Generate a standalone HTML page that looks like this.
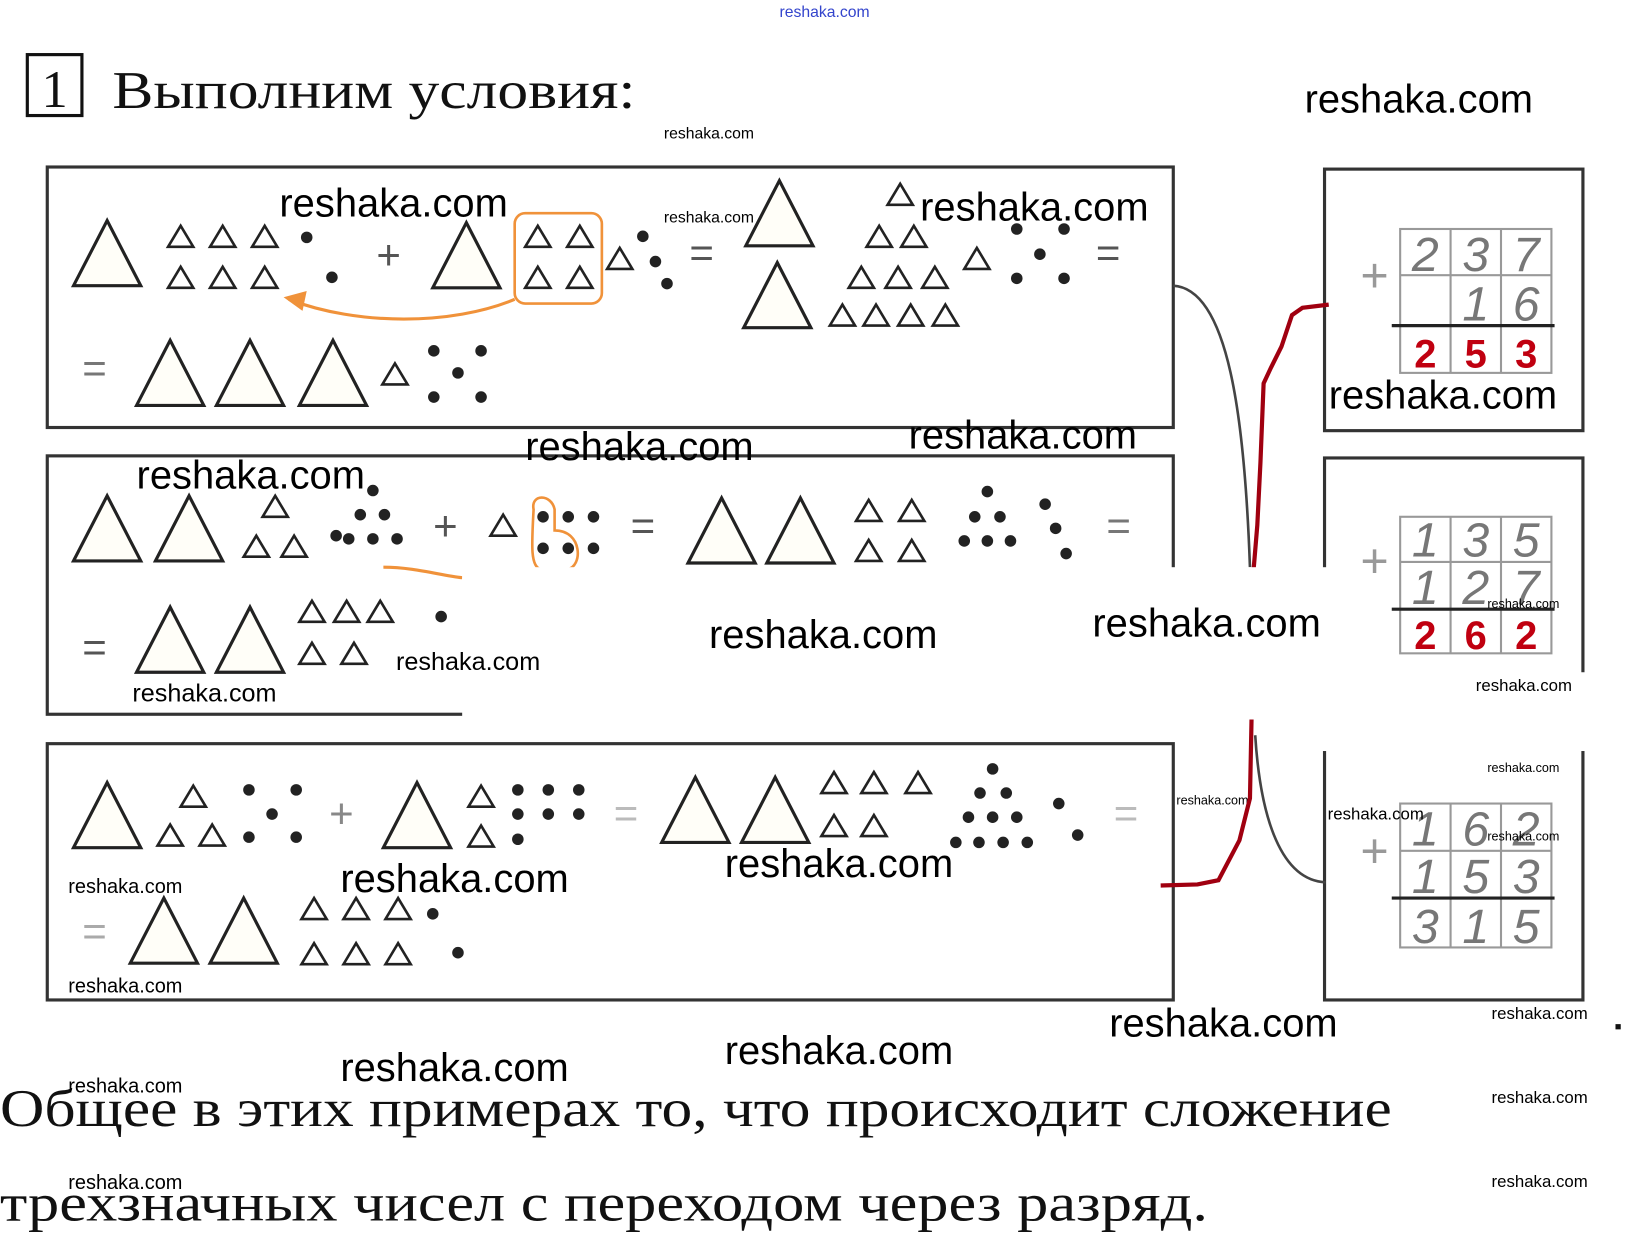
<!DOCTYPE html>
<html><head><meta charset="utf-8"><style>
html,body{margin:0;padding:0;background:#fff;}
svg{display:block;}
.w{font-family:"Liberation Sans",sans-serif;fill:#000;}
.s{font-family:"Liberation Serif","Noto Serif CJK SC",serif;fill:#111;}
</style></head><body>
<svg width="1647" height="1251" viewBox="0 0 1568 1191" preserveAspectRatio="none" xmlns="http://www.w3.org/2000/svg">
<defs>
<path id="t" d="M0,20 L12,0 L24,20 Z" fill="#fff" stroke="#222" stroke-width="2.5"/>
<path id="T" d="M0,62 L32,0 L64,62 Z" fill="#fffef8" stroke="#222" stroke-width="3"/>
<circle id="d" r="5.5" fill="#222"/>
</defs>
<rect width="1568" height="1191" fill="#fff"/>
<text x="785" y="16" class="w" font-size="15" text-anchor="middle" style="fill:#3344cc">reshaka.com</text>
<rect x="26" y="52" width="52" height="58" fill="none" stroke="#111" stroke-width="3"/>
<text x="52" y="102" class="s" font-size="50" text-anchor="middle">1</text>
<text x="107" y="103" class="s" font-size="50" textLength="498" lengthAdjust="spacingAndGlyphs">Выполним условия:</text>
<text x="1242" y="107" class="w" font-size="38">reshaka.com</text>
<text x="632" y="132" class="w" font-size="15">reshaka.com</text>

<g fill="none" stroke="#333" stroke-width="3">
<rect x="45" y="159" width="1072" height="248"/>
<rect x="45" y="434" width="1072" height="246"/>
<rect x="45" y="708" width="1072" height="244"/>
<rect x="1261" y="161" width="246" height="249"/>
<rect x="1261" y="436" width="246" height="244"/>
<rect x="1261" y="708" width="246" height="244"/>
</g>

<!-- panel 1 -->
<use href="#T" x="70" y="210"/>
<use href="#t" x="160" y="215"/><use href="#t" x="200" y="215"/><use href="#t" x="240" y="215"/>
<use href="#t" x="160" y="254"/><use href="#t" x="200" y="254"/><use href="#t" x="240" y="254"/>
<use href="#d" x="292" y="226"/><use href="#d" x="316" y="264"/>
<text x="370" y="256" class="w" font-size="40" text-anchor="middle" style="fill:#555">+</text>
<use href="#T" x="412" y="212"/>
<rect x="490" y="203" width="83" height="86" rx="10" fill="none" stroke="#f0923a" stroke-width="2.5"/>
<use href="#t" x="500" y="215"/><use href="#t" x="540" y="215"/><use href="#t" x="500" y="254"/><use href="#t" x="540" y="254"/>
<use href="#t" x="578" y="236"/>
<use href="#d" x="612" y="225"/><use href="#d" x="624" y="249"/><use href="#d" x="635" y="270"/>
<text x="668" y="254" class="w" font-size="40" text-anchor="middle" style="fill:#555">=</text>
<use href="#T" x="710" y="172"/><use href="#T" x="708" y="250"/>
<use href="#t" x="845" y="175"/>
<use href="#t" x="825" y="215"/><use href="#t" x="858" y="215"/>
<use href="#t" x="808" y="254"/><use href="#t" x="843" y="254"/><use href="#t" x="878" y="254"/>
<use href="#t" x="790" y="290"/><use href="#t" x="822" y="290"/><use href="#t" x="855" y="290"/><use href="#t" x="888" y="290"/>
<use href="#t" x="918" y="236"/>
<use href="#d" x="968" y="218"/><use href="#d" x="1013" y="218"/><use href="#d" x="990" y="242"/><use href="#d" x="968" y="265"/><use href="#d" x="1013" y="265"/>
<text x="1055" y="254" class="w" font-size="40" text-anchor="middle" style="fill:#555">=</text>
<path d="M490,285 C430,310 340,310 275,285" fill="none" stroke="#f0923a" stroke-width="3"/>
<path d="M270,283 L292,277 L288,296 Z" fill="#f0923a"/>
<text x="90" y="364" class="w" font-size="40" text-anchor="middle" style="fill:#777">=</text>
<use href="#T" x="130" y="324"/><use href="#T" x="206" y="324"/><use href="#T" x="285" y="324"/>
<use href="#t" x="364" y="346"/>
<use href="#d" x="413" y="334"/><use href="#d" x="458" y="334"/><use href="#d" x="436" y="355"/><use href="#d" x="413" y="378"/><use href="#d" x="458" y="378"/>
<text x="266" y="206" class="w" font-size="38">reshaka.com</text>
<text x="632" y="212" class="w" font-size="15">reshaka.com</text>
<text x="876" y="210" class="w" font-size="38">reshaka.com</text>

<!-- panel 2 -->
<use href="#T" x="70" y="472"/><use href="#T" x="148" y="472"/>
<use href="#t" x="250" y="472"/><use href="#t" x="232" y="510"/><use href="#t" x="268" y="510"/>
<use href="#d" x="355" y="467"/><use href="#d" x="343" y="490"/><use href="#d" x="366" y="490"/>
<use href="#d" x="332" y="513"/><use href="#d" x="355" y="513"/><use href="#d" x="378" y="513"/><use href="#d" x="320" y="510"/>
<text x="424" y="514" class="w" font-size="40" text-anchor="middle" style="fill:#555">+</text>
<use href="#t" x="467" y="490"/>
<path d="M508,485 C505,470 525,470 528,485 L528,505 C555,505 555,540 540,542 L515,542 C505,540 506,520 508,485 Z" fill="none" stroke="#f0923a" stroke-width="2.5"/>
<use href="#d" x="517" y="492"/><use href="#d" x="541" y="492"/><use href="#d" x="565" y="492"/>
<use href="#d" x="517" y="522"/><use href="#d" x="541" y="522"/><use href="#d" x="565" y="522"/>
<text x="612" y="514" class="w" font-size="40" text-anchor="middle" style="fill:#555">=</text>
<use href="#T" x="655" y="474"/><use href="#T" x="730" y="474"/>
<use href="#t" x="815" y="476"/><use href="#t" x="856" y="476"/><use href="#t" x="815" y="514"/><use href="#t" x="856" y="514"/>
<use href="#d" x="940" y="468"/><use href="#d" x="928" y="492"/><use href="#d" x="952" y="492"/>
<use href="#d" x="918" y="515"/><use href="#d" x="940" y="515"/><use href="#d" x="962" y="515"/>
<use href="#d" x="995" y="480"/><use href="#d" x="1005" y="503"/><use href="#d" x="1015" y="527"/>
<text x="1065" y="514" class="w" font-size="40" text-anchor="middle" style="fill:#777">=</text>
<path d="M440,550 C420,548 395,540 365,540" fill="none" stroke="#f0923a" stroke-width="3"/>
<text x="90" y="630" class="w" font-size="40" text-anchor="middle" style="fill:#555">=</text>
<use href="#T" x="130" y="578"/><use href="#T" x="206" y="578"/>
<use href="#t" x="285" y="572"/><use href="#t" x="318" y="572"/><use href="#t" x="350" y="572"/>
<use href="#t" x="285" y="612"/><use href="#t" x="325" y="612"/>
<use href="#d" x="420" y="587"/>
<text x="130" y="465" class="w" font-size="38">reshaka.com</text>
<text x="500" y="438" class="w" font-size="38">reshaka.com</text>
<text x="865" y="427" class="w" font-size="38">reshaka.com</text>
<text x="126" y="668" class="w" font-size="24">reshaka.com</text>

<!-- panel 3 -->
<use href="#T" x="70" y="745"/>
<use href="#t" x="172" y="748"/><use href="#t" x="150" y="785"/><use href="#t" x="190" y="785"/>
<use href="#d" x="237" y="752"/><use href="#d" x="282" y="752"/><use href="#d" x="259" y="775"/><use href="#d" x="237" y="797"/><use href="#d" x="282" y="797"/>
<text x="325" y="788" class="w" font-size="40" text-anchor="middle" style="fill:#888">+</text>
<use href="#T" x="365" y="745"/>
<use href="#t" x="446" y="748"/><use href="#t" x="446" y="786"/>
<use href="#d" x="493" y="752"/><use href="#d" x="522" y="752"/><use href="#d" x="551" y="752"/>
<use href="#d" x="493" y="775"/><use href="#d" x="522" y="775"/><use href="#d" x="551" y="775"/><use href="#d" x="493" y="799"/>
<text x="596" y="788" class="w" font-size="40" text-anchor="middle" style="fill:#bbb">=</text>
<use href="#T" x="630" y="740"/><use href="#T" x="706" y="740"/>
<use href="#t" x="782" y="735"/><use href="#t" x="820" y="735"/><use href="#t" x="862" y="735"/>
<use href="#t" x="782" y="776"/><use href="#t" x="820" y="776"/>
<use href="#d" x="945" y="732"/><use href="#d" x="933" y="755"/><use href="#d" x="958" y="755"/>
<use href="#d" x="922" y="778"/><use href="#d" x="945" y="778"/><use href="#d" x="968" y="778"/>
<use href="#d" x="910" y="802"/><use href="#d" x="932" y="802"/><use href="#d" x="955" y="802"/><use href="#d" x="978" y="802"/>
<use href="#d" x="1008" y="765"/><use href="#d" x="1026" y="795"/>
<text x="1072" y="788" class="w" font-size="40" text-anchor="middle" style="fill:#bbb">=</text>
<text x="90" y="900" class="w" font-size="40" text-anchor="middle" style="fill:#aaa">=</text>
<use href="#T" x="124" y="855"/><use href="#T" x="200" y="855"/>
<use href="#t" x="287" y="855"/><use href="#t" x="327" y="855"/><use href="#t" x="367" y="855"/>
<use href="#t" x="287" y="898"/><use href="#t" x="327" y="898"/><use href="#t" x="367" y="898"/>
<use href="#d" x="412" y="870"/><use href="#d" x="436" y="907"/>
<text x="65" y="850" class="w" font-size="19">reshaka.com</text>
<text x="324" y="849" class="w" font-size="38">reshaka.com</text>
<text x="690" y="835" class="w" font-size="38">reshaka.com</text>
<text x="65" y="945" class="w" font-size="19">reshaka.com</text>
<text x="1120" y="766" class="w" font-size="12">reshaka.com</text>

<!-- connectors -->
<path d="M1117,272 C1170,275 1185,400 1190,540" fill="none" stroke="#444" stroke-width="2.5"/>
<path d="M1195,700 C1200,780 1220,838 1262,840" fill="none" stroke="#444" stroke-width="2.5"/>
<path d="M1265,290 L1240,293 L1230,300 L1220,330 L1210,350 L1203,365 L1200,440 L1197,500 L1192,560" fill="none" stroke="#a00010" stroke-width="4"/>
<path d="M1192,660 L1190,760 L1180,800 L1160,838 L1140,842 L1105,843" fill="none" stroke="#a00010" stroke-width="4"/>

<!-- grids -->
<g stroke="#999" stroke-width="2" fill="none">
<rect x="1333" y="218" width="144" height="137"/><line x1="1381" y1="218" x2="1381" y2="355"/><line x1="1429" y1="218" x2="1429" y2="355"/><line x1="1333" y1="262" x2="1477" y2="262"/>
<rect x="1333" y="492" width="144" height="130"/><line x1="1381" y1="492" x2="1381" y2="622"/><line x1="1429" y1="492" x2="1429" y2="622"/><line x1="1333" y1="535" x2="1477" y2="535"/>
<rect x="1333" y="765" width="144" height="137"/><line x1="1381" y1="765" x2="1381" y2="902"/><line x1="1429" y1="765" x2="1429" y2="902"/><line x1="1333" y1="810" x2="1477" y2="810"/>
</g>
<g stroke="#222" stroke-width="3"><line x1="1325" y1="310" x2="1480" y2="310"/><line x1="1325" y1="580" x2="1480" y2="580"/><line x1="1325" y1="855" x2="1480" y2="855"/></g>
<g class="w" font-size="46" style="fill:#777;font-style:italic" text-anchor="middle">
<text x="1308" y="278" style="fill:#999">+</text><text x="1357" y="258">2</text><text x="1405" y="258">3</text><text x="1453" y="258">7</text><text x="1405" y="305">1</text><text x="1453" y="305">6</text>
<text x="1308" y="550" style="fill:#999">+</text><text x="1357" y="530">1</text><text x="1405" y="530">3</text><text x="1453" y="530">5</text><text x="1357" y="575">1</text><text x="1405" y="575">2</text><text x="1453" y="575">7</text>
<text x="1308" y="826" style="fill:#999">+</text><text x="1357" y="805">1</text><text x="1405" y="805">6</text><text x="1453" y="805">2</text><text x="1357" y="850">1</text><text x="1405" y="850">5</text><text x="1453" y="850">3</text>
<text x="1357" y="898">3</text><text x="1405" y="898">1</text><text x="1453" y="898">5</text>
</g>
<g class="w" font-size="38" font-weight="bold" text-anchor="middle">
<text x="1357" y="350" style="fill:#c00010">2</text><text x="1405" y="350" style="fill:#c00010">5</text><text x="1453" y="350" style="fill:#c00010">3</text>
<text x="1357" y="618" style="fill:#c00010">2</text><text x="1405" y="618" style="fill:#c00010">6</text><text x="1453" y="618" style="fill:#c00010">2</text>
</g>
<text x="1265" y="389" class="w" font-size="38">reshaka.com</text>

<!-- white overlay -->
<rect x="440" y="540" width="850" height="145" fill="#fff"/>
<rect x="1200" y="640" width="335" height="75" fill="#fff"/>
<text x="377" y="638" class="w" font-size="24">reshaka.com</text>
<text x="675" y="617" class="w" font-size="38">reshaka.com</text>
<text x="1040" y="606" class="w" font-size="38">reshaka.com</text>
<text x="1416" y="579" class="w" font-size="12">reshaka.com</text>
<text x="1405" y="658" class="w" font-size="16">reshaka.com</text>
<text x="1416" y="735" class="w" font-size="12">reshaka.com</text>
<text x="1264" y="780" class="w" font-size="16">reshaka.com</text>
<text x="1416" y="800" class="w" font-size="12">reshaka.com</text>
<text x="1420" y="970" class="w" font-size="16">reshaka.com</text>
<text x="1056" y="987" class="w" font-size="38">reshaka.com</text>
<text x="690" y="1013" class="w" font-size="38">reshaka.com</text>
<text x="324" y="1029" class="w" font-size="38">reshaka.com</text>
<rect x="1538" y="975" width="5" height="5" fill="#111"/>

<text x="0" y="1072" class="s" font-size="50" textLength="1325" lengthAdjust="spacingAndGlyphs">Общее в этих примерах то, что происходит сложение</text>
<text x="0" y="1162" class="s" font-size="50" textLength="1150" lengthAdjust="spacingAndGlyphs">трехзначных чисел с переходом через разряд.</text>
<text x="65" y="1040" class="w" font-size="19">reshaka.com</text>
<text x="65" y="1132" class="w" font-size="19">reshaka.com</text>
<text x="1420" y="1050" class="w" font-size="16">reshaka.com</text>
<text x="1420" y="1130" class="w" font-size="16">reshaka.com</text>
</svg>
</body></html>
